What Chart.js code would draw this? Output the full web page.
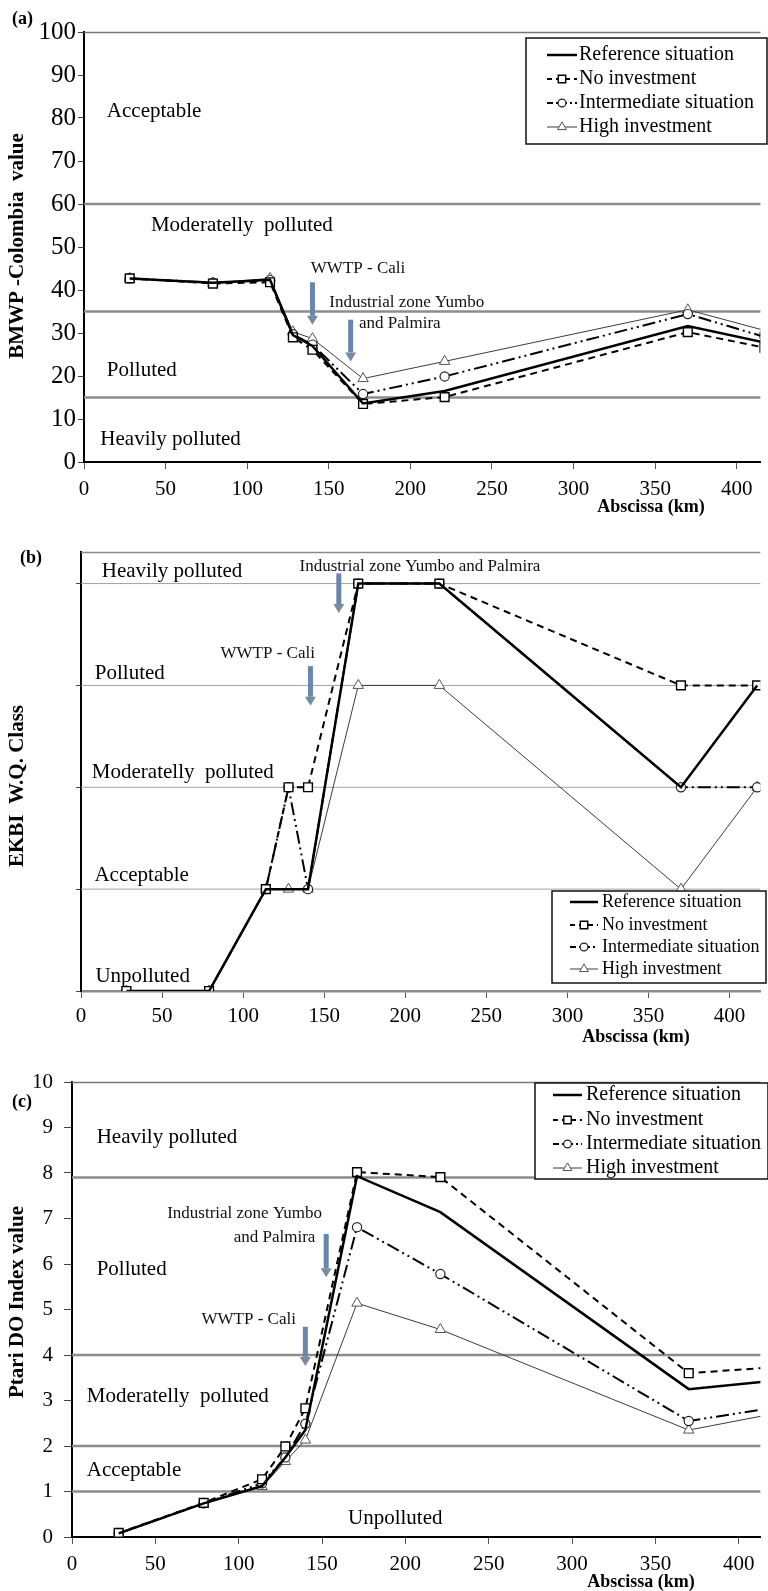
<!DOCTYPE html>
<html>
<head>
<meta charset="utf-8">
<script src="https://cdn.jsdelivr.net/npm/chart.js@4.4.1/dist/chart.umd.min.js"></script>
<style>
  html, body { margin: 0; padding: 0; background: #fff; }
  #page { position: relative; width: 768px; height: 1591px; overflow: hidden; }
  #page canvas { position: absolute; left: 0; }
</style>
</head>
<body>
<div id="page">
  <canvas id="chart-bmwp" width="768" height="520" style="top:0px"></canvas>
  <canvas id="chart-ekbi" width="768" height="530" style="top:520px"></canvas>
  <canvas id="chart-ptari" width="768" height="541" style="top:1050px"></canvas>
</div>
<script>
// --- 1. Station data (abscissa along the river, km) ---
const stationKm = [28, 79, 114, 128, 140, 171, 221, 370, 417];

// (a) BMWP-Colombia index
const bmwpReference = [42.7, 41.7, 42.4, 29.5, 27.0, 13.6, 16.5, 31.6, 27.8];
const bmwpNoInvestment = [42.7, 41.5, 41.8, 29.0, 26.1, 13.5, 15.1, 30.2, 26.6];
const bmwpIntermediate = [42.7, 41.7, 42.3, 29.7, 27.3, 15.8, 19.9, 34.4, 29.1];
const bmwpHigh = [42.7, 41.6, 42.7, 30.3, 28.7, 19.4, 23.4, 35.4, 30.6];
const bmwpLimits = [60, 35, 15];

// (b) EKBI water quality class (1 = unpolluted ... 5 = heavily polluted)
const ekbiReference = [1, 1, 2, 2, 2, 5, 5, 3, 4];
const ekbiNoInvestment = [1, 1, 2, 3, 3, 5, 5, 4, 4];
const ekbiIntermediate = [1, 1, 2, 3, 2, 5, 5, 3, 3];
const ekbiHigh = [1, 1, 2, 2, 2, 4, 4, 2, 3];
const ekbiLimits = [2, 3, 4, 5];

// (c) Ptari DO index
const doReference = [0.08, 0.74, 1.12, 1.75, 2.35, 7.93, 7.14, 3.25, 3.42];
const doNoInvestment = [0.09, 0.75, 1.27, 1.99, 2.83, 8.02, 7.91, 3.6, 3.72];
const doIntermediate = [0.08, 0.74, 1.18, 1.75, 2.49, 6.81, 5.78, 2.55, 2.82];
const doHigh = [0.07, 0.73, 1.11, 1.66, 2.13, 5.14, 4.56, 2.35, 2.68];
const doLimits = [7.9, 4, 2, 1];

const scenarioNames = [
  "Reference situation",
  "No investment",
  "Intermediate situation",
  "High investment",
];

const SERIF = "'Liberation Serif', 'Times New Roman', serif";
const ARROW_COLOR = "#6a86ac";

// --- 2. Line / marker style for each scenario ---
const scenarioStyles = [
  { borderColor: "#000", borderWidth: 2.5, borderDash: [], pointRadius: 0, pointStyle: "circle" },
  { borderColor: "#000", borderWidth: 2, borderDash: [7, 5], pointRadius: 6.2, pointStyle: "rect",
    pointBorderColor: "#000", pointBorderWidth: 1.4 },
  { borderColor: "#000", borderWidth: 2, borderDash: [13, 4, 2, 4, 2, 4], pointRadius: 4.6, pointStyle: "circle",
    pointBorderColor: "#222", pointBorderWidth: 1.2 },
  { borderColor: "#3c3c3c", borderWidth: 1, borderDash: [], pointRadius: 6, pointStyle: "triangle",
    pointBorderColor: "#555", pointBorderWidth: 1 },
];

function buildDatasets(seriesList) {
  return seriesList.map((values, i) => {
    const st = scenarioStyles[i];
    return {
      label: scenarioNames[i],
      data: stationKm.map((km, j) => ({ x: km, y: values[j] })),
      borderColor: st.borderColor,
      borderWidth: st.borderWidth,
      borderDash: st.borderDash,
      pointStyle: st.pointStyle,
      pointRadius: st.pointRadius,
      pointBackgroundColor: "#fff",
      pointBorderColor: st.pointBorderColor || st.borderColor,
      pointBorderWidth: st.pointBorderWidth || 1,
      tension: 0,
      fill: false,
    };
  });
}

// --- 3. Plugin: frame, class limits, labels, arrows, legend ---
const panelDecor = {
  id: "panelDecor",
  beforeDatasetsDraw(chart, args, o) {
    const { ctx, chartArea } = chart;
    const xs = chart.scales.x;
    const ys = chart.scales.y;
    ctx.save();

    // thin frame line along the top of the plot
    ctx.strokeStyle = o.frameColor;
    ctx.lineWidth = 1.5;
    ctx.beginPath();
    ctx.moveTo(chartArea.left, chartArea.top + 0.5);
    ctx.lineTo(chartArea.right, chartArea.top + 0.5);
    ctx.stroke();

    // class limits
    ctx.strokeStyle = o.limitColor;
    ctx.lineWidth = o.limitWidth;
    o.limits.forEach((v) => {
      const py = ys.getPixelForValue(v);
      ctx.beginPath();
      ctx.moveTo(chartArea.left, py);
      ctx.lineTo(chartArea.right, py);
      ctx.stroke();
    });

    // quality class names
    ctx.fillStyle = "#000";
    ctx.font = `21px ${SERIF}`;
    ctx.textBaseline = "middle";
    ctx.textAlign = "left";
    o.regions.forEach((r) => {
      ctx.fillText(r.text, xs.getPixelForValue(r.km), ys.getPixelForValue(r.v));
    });
    ctx.restore();
  },

  afterDatasetsDraw(chart, args, o) {
    const { ctx } = chart;
    const xs = chart.scales.x;
    const ys = chart.scales.y;
    ctx.save();

    // discharge notes
    ctx.fillStyle = "#111";
    ctx.font = `17px ${SERIF}`;
    ctx.textBaseline = "middle";
    o.notes.forEach((n) => {
      ctx.textAlign = n.align || "left";
      ctx.fillText(n.text, xs.getPixelForValue(n.km), ys.getPixelForValue(n.v));
    });

    // discharge arrows
    o.arrows.forEach((a) => {
      const px = xs.getPixelForValue(a.km);
      const y1 = ys.getPixelForValue(a.from);
      const y2 = ys.getPixelForValue(a.to);
      const head = 9;
      ctx.fillStyle = ARROW_COLOR;
      ctx.fillRect(px - 2.5, y1, 5, y2 - y1 - head);
      ctx.fillStyle = "#7a8aa0";
      ctx.beginPath();
      ctx.moveTo(px - 5.5, y2 - head);
      ctx.lineTo(px + 5.5, y2 - head);
      ctx.lineTo(px, y2);
      ctx.closePath();
      ctx.fill();
    });

    // legend box
    const lg = o.legend;
    const [bx1, by1, bx2, by2] = lg.box;
    ctx.fillStyle = "#fff";
    ctx.fillRect(bx1, by1, bx2 - bx1, by2 - by1);
    ctx.strokeStyle = "#111";
    ctx.lineWidth = 1.5;
    ctx.strokeRect(bx1, by1, bx2 - bx1, by2 - by1);

    chart.data.datasets.forEach((ds, i) => {
      const ry = lg.rows[i];
      ctx.strokeStyle = ds.borderColor;
      ctx.lineWidth = ds.borderWidth;
      ctx.setLineDash(i === 2 ? [6, 3, 2, 3] : i === 1 ? [5, 4] : []);
      ctx.beginPath();
      ctx.moveTo(lg.sample[0], ry);
      ctx.lineTo(lg.sample[1], ry);
      ctx.stroke();
      ctx.setLineDash([]);
      if (ds.pointRadius > 0) {
        ctx.fillStyle = "#fff";
        ctx.strokeStyle = ds.pointBorderColor;
        ctx.lineWidth = ds.pointBorderWidth;
        Chart.helpers.drawPoint(
          ctx,
          { pointStyle: ds.pointStyle, radius: ds.pointRadius * 0.85, rotation: 0, borderWidth: ds.pointBorderWidth },
          (lg.sample[0] + lg.sample[1]) / 2,
          ry
        );
      }
      ctx.fillStyle = "#000";
      ctx.font = `${lg.size}px ${SERIF}`;
      ctx.textAlign = "left";
      ctx.textBaseline = "middle";
      ctx.fillText(ds.label, lg.textX, ry);
    });

    // panel letter and axis titles
    ctx.fillStyle = "#000";
    ctx.font = `bold 18px ${SERIF}`;
    ctx.textAlign = "left";
    ctx.fillText(o.letter.text, o.letter.x, o.letter.y);

    ctx.font = `bold 18px ${SERIF}`;
    ctx.textAlign = "center";
    ctx.fillText("Abscissa (km)", o.xTitle.x, o.xTitle.y);

    ctx.translate(o.yTitle.x, o.yTitle.y);
    ctx.rotate(-Math.PI / 2);
    ctx.font = `bold 21px ${SERIF}`;
    ctx.fillText(o.yTitle.text, 0, 0);
    ctx.restore();
  },
};

// --- 4. Chart factory ---
function makePanel(canvasId, p) {
  const canvas = document.getElementById(canvasId);
  return new Chart(canvas, {
    type: "line",
    data: { datasets: buildDatasets(p.series) },
    options: {
      responsive: false,
      animation: false,
      layout: { padding: { top: 32, left: 0, right: 0, bottom: 0 } },
      plugins: {
        legend: { display: false },
        tooltip: { enabled: false },
        panelDecor: p.decor,
      },
      scales: {
        x: {
          type: "linear",
          min: 0,
          max: p.xMax,
          afterFit: (scale) => { scale.height = p.xAxisHeight; },
          border: { color: p.xAxisColor, width: p.xAxisWidth },
          grid: { drawOnChartArea: false, drawTicks: true, tickLength: 7, color: "#555" },
          ticks: {
            stepSize: 50,
            includeBounds: false,
            maxRotation: 0,
            autoSkip: false,
            padding: p.xTickPad,
            color: "#000",
            font: { family: SERIF, size: 21 },
          },
        },
        y: {
          min: p.yMin,
          max: p.yMax,
          afterFit: (scale) => { scale.width = p.yAxisWidth; },
          border: { color: "#000", width: 2 },
          grid: { drawOnChartArea: false, drawTicks: true, tickLength: p.yTickLen, color: "#444" },
          ticks: {
            stepSize: p.yStep,
            includeBounds: false,
            padding: p.yTickPad,
            color: "#000",
            font: { family: SERIF, size: p.yTickSize },
            callback: p.yLabels ? (v) => v : () => "",
          },
        },
      },
    },
    plugins: [panelDecor],
  });
}

// (a) BMWP-Colombia
makePanel("chart-bmwp", {
  series: [bmwpReference, bmwpNoInvestment, bmwpIntermediate, bmwpHigh],
  xMax: 414.5, xAxisHeight: 58, xAxisColor: "#000", xAxisWidth: 2, xTickPad: 8,
  yMin: 0, yMax: 100, yStep: 10, yAxisWidth: 84, yTickLen: 6, yTickPad: 2, yTickSize: 25, yLabels: true,
  decor: {
    frameColor: "#777",
    limitColor: "#8c8c8c",
    limitWidth: 2.5,
    limits: bmwpLimits,
    regions: [
      { text: "Acceptable", km: 14, v: 81.4 },
      { text: "Moderatelly  polluted", km: 41, v: 55.1 },
      { text: "Polluted", km: 14, v: 21.2 },
      { text: "Heavily polluted", km: 10, v: 5.2 },
    ],
    notes: [
      { text: "WWTP - Cali", km: 139, v: 44.9 },
      { text: "Industrial zone Yumbo", km: 150.3, v: 37 },
      { text: "and Palmira", km: 168.5, v: 32.1 },
    ],
    arrows: [
      { km: 140, from: 41.8, to: 31.9 },
      { km: 163.4, from: 33.1, to: 23.4 },
    ],
    legend: { box: [526, 38, 767, 144], rows: [55, 79, 103, 127], sample: [547, 577], textX: 579, size: 20 },
    letter: { text: "(a)", x: 12, y: 19 },
    xTitle: { x: 651, y: 507 },
    yTitle: { text: "BMWP -Colombia  value", x: 18, y: 246 },
  },
});

// (b) EKBI water quality class
makePanel("chart-ekbi", {
  series: [ekbiReference, ekbiNoInvestment, ekbiIntermediate, ekbiHigh],
  xMax: 419, xAxisHeight: 59, xAxisColor: "#8a8a8a", xAxisWidth: 2.5, xTickPad: 6,
  yMin: 1, yMax: 5.31, yStep: 1, yAxisWidth: 81, yTickLen: 5, yTickPad: 2, yTickSize: 21, yLabels: false,
  decor: {
    frameColor: "#8a8a8a",
    limitColor: "#a0a0a0",
    limitWidth: 1,
    limits: ekbiLimits,
    regions: [
      { text: "Heavily polluted", km: 12.8, v: 5.12 },
      { text: "Polluted", km: 8.5, v: 4.12 },
      { text: "Moderatelly  polluted", km: 6.7, v: 3.15 },
      { text: "Acceptable", km: 8.3, v: 2.13 },
      { text: "Unpolluted", km: 8.9, v: 1.14 },
    ],
    notes: [
      { text: "Industrial zone Yumbo and Palmira", km: 134.8, v: 5.17 },
      { text: "WWTP - Cali", km: 86, v: 4.31 },
    ],
    arrows: [
      { km: 159, from: 5.1, to: 4.71 },
      { km: 141.5, from: 4.19, to: 3.8 },
    ],
    legend: { box: [552, 371, 766, 463], rows: [382, 405, 427, 449], sample: [570, 598], textX: 602, size: 18 },
    letter: { text: "(b)", x: 20, y: 38 },
    xTitle: { x: 636, y: 517 },
    yTitle: { text: "EKBI  W.Q. Class", x: 18, y: 266 },
  },
});

// (c) Ptari DO index
makePanel("chart-ptari", {
  series: [doReference, doNoInvestment, doIntermediate, doHigh],
  xMax: 413, xAxisHeight: 54, xAxisColor: "#000", xAxisWidth: 2, xTickPad: 8,
  yMin: 0, yMax: 10, yStep: 1, yAxisWidth: 72, yTickLen: 8, yTickPad: 11, yTickSize: 21, yLabels: true,
  decor: {
    frameColor: "#777",
    limitColor: "#8c8c8c",
    limitWidth: 2.5,
    limits: doLimits,
    regions: [
      { text: "Heavily polluted", km: 14.8, v: 8.79 },
      { text: "Polluted", km: 14.8, v: 5.89 },
      { text: "Moderatelly  polluted", km: 8.9, v: 3.08 },
      { text: "Acceptable", km: 8.9, v: 1.47 },
      { text: "Unpolluted", km: 165.6, v: 0.4 },
    ],
    notes: [
      { text: "Industrial zone Yumbo", km: 150, v: 7.1, align: "right" },
      { text: "and Palmira", km: 146, v: 6.59, align: "right" },
      { text: "WWTP - Cali", km: 77.7, v: 4.77 },
    ],
    arrows: [
      { km: 152.5, from: 6.66, to: 5.71 },
      { km: 140, from: 4.62, to: 3.76 },
    ],
    legend: { box: [535, 33, 768, 129], rows: [45, 70, 94, 118], sample: [553, 582], textX: 586, size: 20 },
    letter: { text: "(c)", x: 12, y: 52 },
    xTitle: { x: 641, y: 532 },
    yTitle: { text: "Ptari DO Index value", x: 18, y: 252 },
  },
});
</script>
</body>
</html>
